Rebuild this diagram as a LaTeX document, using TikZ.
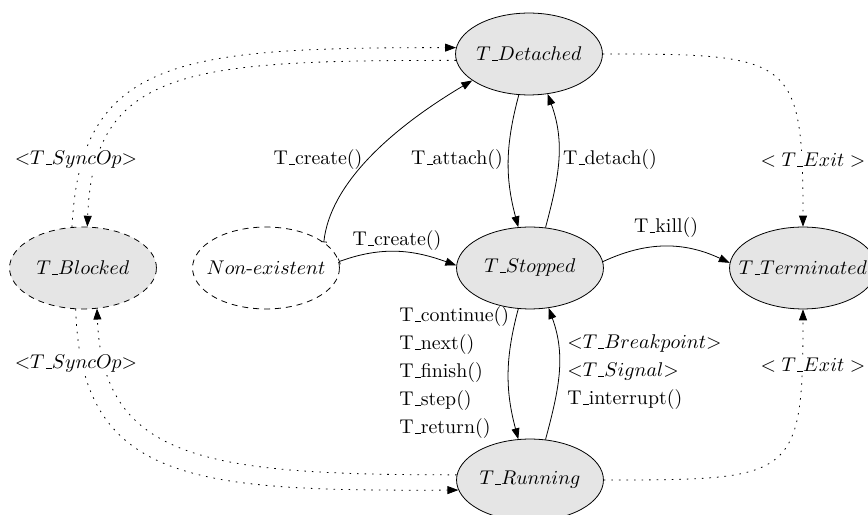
\documentclass[tikz,border=0pt]{standalone}
\usepackage{tikz}
\usetikzlibrary{arrows.meta,shapes.geometric}
\renewcommand{\_}{\leavevmode\kern.06em\vbox{\hrule width.3em}}
\newcommand{\ctr}[1]{\makebox[0pt]{#1}}
\tikzset{
  st/.style={draw,ellipse,fill=black!10,minimum width=2.6cm,minimum height=1.45cm,inner sep=0pt},
  stdash/.style={st,dash pattern=on 3pt off 2.5pt},
  lbl/.style={inner sep=1pt},
  wlbl/.style={lbl,fill=white},
  arr/.style={-{Triangle[length=5.5pt,width=4pt]}},
  tarr/.style={{Bar[width=3pt]}-{Triangle[length=5.5pt,width=4pt]}},
  darr/.style={arr,dash pattern=on 0.8pt off 3pt},
}
\begin{document}
\begin{tikzpicture}[x=0.0177cm,y=-0.0177cm]
  \useasboundingbox (0,0) rectangle (868,515);
  % states
  \node[st] (det) at (529,54) {\ctr{$T\_Detached$}};
  \node[st] (stp) at (530,268) {\ctr{$T\_Stopped$}};
  \node[st] (run) at (530,480) {\ctr{$T\_Running$}};
  \node[st] (term) at (803,268) {\ctr{$T\_Terminated$}};
  \node[stdash] (blk) at (83,268) {\ctr{$T\_Blocked$}};
  \node[stdash,fill=none] (nex) at (266,268) {\ctr{$Non$-$existent$}};

  % transitions
  \draw[tarr] (nex.24) .. controls +(6,-57) and +(-84,50) .. (det.205);
  \draw[tarr] (nex.5) to[out=20,in=160] (stp.178);
  \draw[arr] (det.256) to[out=255,in=105] (stp.106);
  \draw[arr] (stp.69) to[out=75,in=290] (det.295);
  \draw[arr] (stp.5) to[out=25,in=155] (term.176);
  \draw[arr] (stp.254) to[out=255,in=105] (run.106);
  \draw[arr] (run.69) to[out=75,in=290] (stp.295);

  % dotted ones
  \draw[darr] (det.0) .. controls +(190,0) and +(0,-170) .. (term.90);
  \draw[darr] (run.0) .. controls +(190,0) and +(0,170) .. (term.270);
  \draw[darr] (blk.105) .. controls +(8,-170) and +(-275,0) .. (det.175);
  \draw[darr] (det.185) .. controls +(-265,0) and +(6,-160) .. (blk.84);
  \draw[darr] (blk.260) .. controls +(5,175) and +(-262,1) .. (run.188);
  \draw[darr] (run.176) .. controls +(-250,0) and +(6,152) .. (blk.289);

  % labels
  \node[lbl] (lcr1) at (318,160) {T\_create()};
  \node[lbl] (lcr2) at (397,241) {T\_create()};
  \node[lbl] (lat) at (457,160) {T\_attach()};
  \node[lbl] (lde) at (610,160) {T\_detach()};
  \node[lbl] (lki) at (666,228) {T\_kill()};
  \node[lbl,align=left,anchor=west] (lgo) at (397,373)
       {T\_continue()\\[2.1pt]T\_next()\\[2.1pt]T\_finish()\\[2.1pt]T\_step()\\[2.1pt]T\_return()};
  \node[lbl,align=left,anchor=west] (lbr) at (565,372)
       {$<$$T\_Breakpoint$$>$\\[2.1pt]$<$$T\_Signal$$>$\\[2.1pt]T\_interrupt()};
  \node[wlbl] (lex1) at (813,160) {$<T\_Exit>$};
  \node[wlbl] (lex2) at (813,365) {$<T\_Exit>$};
  \node[wlbl] (lsy1) at (76,160) {$<$$T\_SyncOp$$>$};
  \node[wlbl] (lsy2) at (76,364) {$<$$T\_SyncOp$$>$};
\end{tikzpicture}
\end{document}
